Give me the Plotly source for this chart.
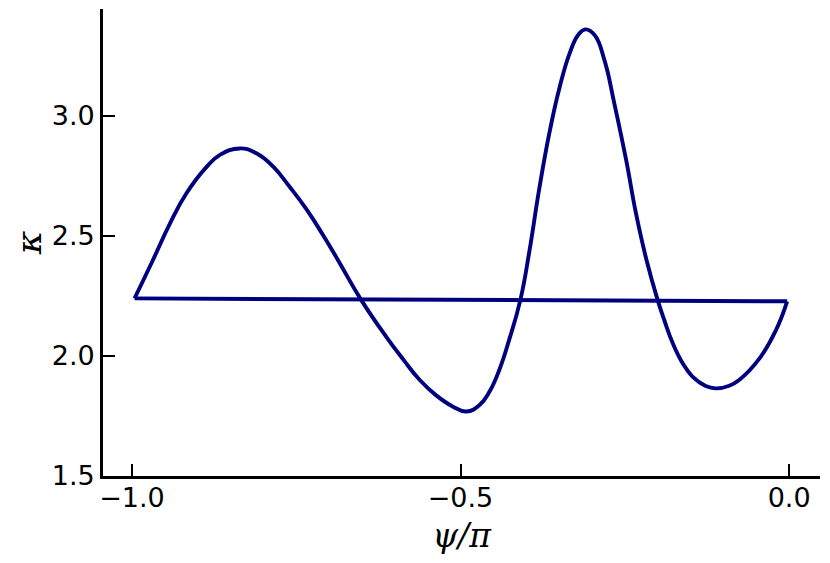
import plotly.graph_objects as go

# psi/pi and kappa along the loop, left tip -> right tip
psi = [-0.996, -0.968, -0.942, -0.917, -0.886, -0.866, -0.836, -0.810, -0.785, -0.760,
       -0.734, -0.709, -0.684, -0.651, -0.613, -0.587, -0.562, -0.537, -0.512, -0.491,
       -0.471, -0.456, -0.441, -0.426, -0.409, -0.395, -0.380, -0.364, -0.349, -0.334,
       -0.321, -0.310, -0.296, -0.281, -0.266, -0.248, -0.233, -0.217, -0.200, -0.190,
       -0.177, -0.162, -0.147, -0.127, -0.112, -0.091, -0.076, -0.045, -0.020, -0.003]
kappa = [2.240, 2.400, 2.553, 2.678, 2.789, 2.838, 2.865, 2.844, 2.789, 2.705,
         2.610, 2.503, 2.388, 2.233, 2.080, 1.985, 1.900, 1.836, 1.790, 1.769,
         1.796, 1.851, 1.942, 2.067, 2.233, 2.440, 2.700, 2.940, 3.122, 3.261,
         3.338, 3.361, 3.338, 3.233, 3.053, 2.817, 2.594, 2.400, 2.233, 2.150,
         2.053, 1.970, 1.914, 1.875, 1.865, 1.876, 1.900, 1.990, 2.108, 2.228]

# return branch, right tip -> left tip
psi_back = [-0.003, -0.996]
kappa_back = [2.228, 2.240]

x_ticks = [-1.0, -0.5, 0.0]
y_ticks = [1.5, 2.0, 2.5, 3.0]

navy = "#00007f"

fig = go.Figure()
fig.add_trace(go.Scatter(x=psi, y=kappa, mode="lines",
                         line=dict(color=navy, width=3.9, shape="spline", smoothing=1.3)))
fig.add_trace(go.Scatter(x=psi_back, y=kappa_back, mode="lines",
                         line=dict(color=navy, width=3.9)))

# page body adds 8px around the figure, so sizes/margins are shrunk to suit
fig.update_layout(
    width=814, height=547,
    margin=dict(l=95, r=2, t=1, b=79),
    paper_bgcolor="white", plot_bgcolor="white",
    showlegend=False,
    font=dict(family="DejaVu Sans", size=27, color="black"),
)
fig.update_xaxes(
    range=[-1.044, 0.047], tickvals=x_ticks, ticktext=["\u22121.0", "\u22120.5", "0.0"],
    showgrid=False, zeroline=False, showline=True, linecolor="black", linewidth=2.7,
    ticks="inside", ticklen=12, tickwidth=2, tickcolor="black", ticklabelstandoff=-4,
    automargin=False,
    title=dict(text="<i>\u03c8/\u03c0</i>", font=dict(family="DejaVu Serif", size=33),
               standoff=14),
)
fig.update_yaxes(
    range=[1.5, 3.446], tickvals=y_ticks, ticktext=["1.5", "2.0", "2.5", "3.0"],
    showgrid=False, zeroline=False, showline=True, linecolor="black", linewidth=2.7,
    ticks="inside", ticklen=12, tickwidth=2, tickcolor="black", ticklabelstandoff=0,
    automargin=False,
    title=dict(text="<i>\u03ba</i>", font=dict(family="DejaVu Serif", size=36),
               standoff=4),
)

fig.write_html("out.html")
